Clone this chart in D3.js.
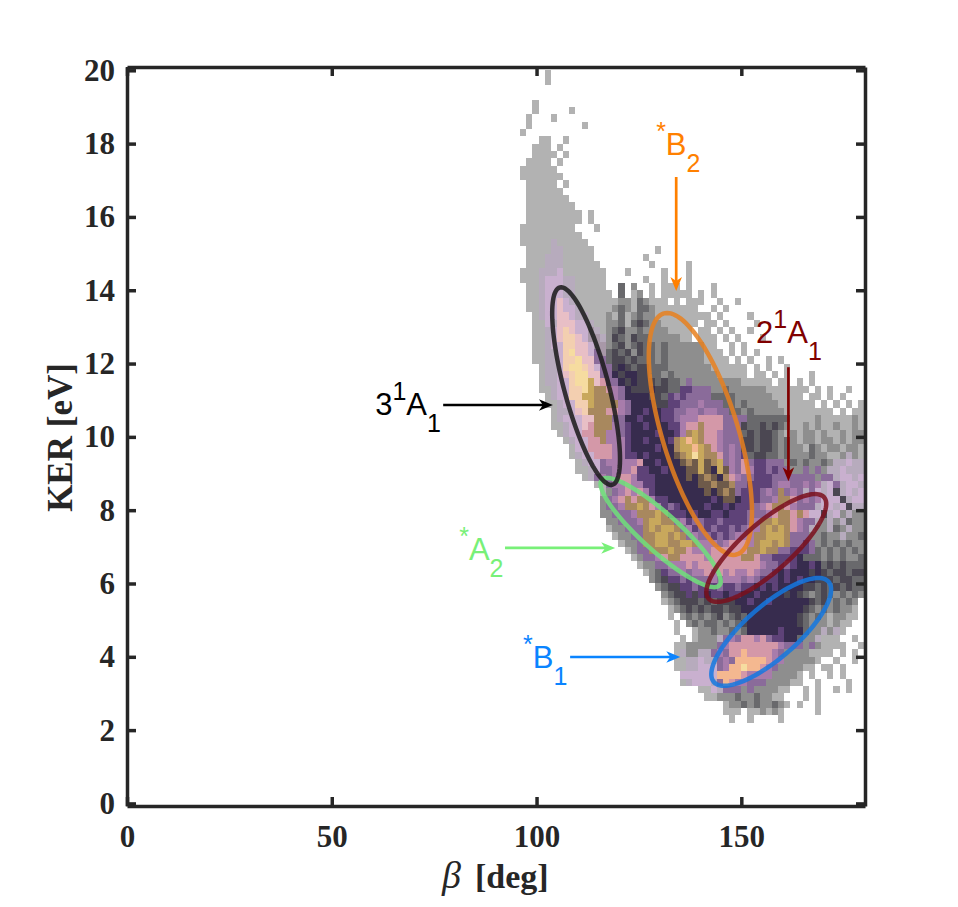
<!DOCTYPE html>
<html>
<head>
<meta charset="utf-8">
<script src="https://cdn.jsdelivr.net/npm/d3@7"></script>
<style>
    body { margin: 0; background: #fff; }
</style>
</head>
<body>
<div id="chart"></div>
<script>
const xTicks = [0, 50, 100, 150];
const yTicks = [0, 2, 4, 6, 8, 10, 12, 14, 16, 18, 20];

// heatmap. first row is KER 20 going down in 0.2 eV steps,
// first column is beta 96 going right in 1.5 deg steps (spaces only help counting)
const heatRows = [
    "....a",
    "....a",
    ".....",
    ".....",
    "..a..",
    "..a.. ...a.",
    ".a... a....",
    ".a... ..... a....",
    "a....",
    "...aa ..a..",
    "..aaa .a...",
    "..aaa a.a..",
    ".aaaa .a...",
    "aaaaa a....",
    "aaaaa aa...",
    ".aaaa a.a..",
    ".aaaa aa...",
    ".aaaa aaa..",
    ".aaaa aaaa.",
    ".aaaa aaaaa .a...",
    ".aaaa aaaaa .a...",
    "aaaaa aaaa. ..a",
    "aaaaa aaaaa",
    "aaaaa paaaa a",
    ".aaaa ppaaa aa... ..... ..a..",
    ".aaap ppaaa aa... ..... a....",
    ".aaap ppaaa aaa.. ..... .a... ..a..",
    "aaapp phaaa aaaa. ..a.. ...a. ..a..",
    "aaaph hhppa aaaa. ..... a..a. ..a..",
    ".aaph hhppa aaaa. .c.b. .a.aa a.a.. .a",
    ".aaph hhppa aaaaa .c.ab .a.aa aaa.a .a...",
    ".aaph hqhpa aaaaa abbac baaa. a.aaa ..a.. a....",
    ".aaph hqhhp aaaaa bcbac cbaaa aaaa. .a.a.",
    "..aph hqqhp paaab acabc bbaaa aaaaa a.a.. ..a..",
    "..aah pqqqh hpaab bcacd cbbaa aaaa. aa.a. ...a.",
    "..aap hqsqh hrpab cdbbc bbbba aaa.a a.a.a ..a..",
    "..aap hqssq hrrpb dcbdc cbbbb baa.a aa.a. a...a",
    "..aap hhssq qhrrb cdbcd ccbcb bbbbb aa..a .a...",
    "..aap phsnq qhgrc dcdbd ccbcb bbbbb aaa.a .a.a.",
    "..aap phssn qqggc ddcdc ccbcb bbbbb aaaa. a.a.. a.a",
    "...ap phsnn sqhgg dedcd dcccb bbbbb baaaa aa.a. a..a.",
    "...ap phqsn nqqgg edeed dccbc bbbbb bbaaa aa.aa .a.a. ..a..",
    "...ap phhsn nlqjg geded ddcdc cbgbb bbbbb baaaa a.aa. a.a..",
    "...aa phhss nlkkj igedd deddc cffgg gbbcb bbbbb aaaaa aa.a. a..a.",
    "....a phhss llkkk igeee eddcf gfggg gcccc bbbbb baaaa a.aa. a.a..",
    "....a aphhs slkkk kigee eeddf fgggi gggcc bcbbb bbaaa aaa.a .a.a. a",
    "..... apphq skkkj jigee feeff ggiig iiggc cbcbb bbbaa aaaaa a.a.a a",
    "..... aphhh qqkkk ggeef eeeff giiij jjjgg ggccc cccca aaaba aaaab a",
    "..... aaphh qjkkk igfee feeef fijjk jjjgg gdccd cdcba ababa abaab a",
    "..... .aphh jjkki igfee eefee fiklk jjigg gcdcd dcbab abbab aabab b",
    "..... ..aph hjjki iifee feeef klmlk jjigg gddcd dcbcb abbab babab b",
    "..... ...ah hjjjj iifee eefee kllml kjigi gddcd dcbcb bacba bbabb a",
    "..... ...ap hhjjj iiffe feeee oklnl kkjgi gfcdd ccbcb bbcbb aabpb a",
    "..... ....a phhgi iiiij eefee eokol oklgi gjgff gggbc bcbbc bpphp p",
    "..... ....a aphgg iiijf feefe eeool oeloi gjiff gfggb bgbgb pphpp p",
    "..... ..... apgig ijjif ffeee eeoeo koekj iggff fgggg gggbg gphhp h",
    "..... ..... ..aag iijii ffeee eeeeo okook ggfff fgiig gigip hgphh p",
    "..... ..... ...ab gijij ifeee eeeee oeoko gfffg igkgi gpghp hdphp h",
    "..... ..... ...bg ijkjk kiffe eeeee efeoo efffg gikkj gigih hhdph h",
    "..... ..... ...bg gikkl kjifg feeee feefe fffgi jkkji gggph hphdp p",
    "..... ..... ...bb gggik kklkf ffefe effef ffggg ijkkj kjhhd phbpb b",
    "..... ..... ....b bgggi kllkk gifgg ffgff ffgik klkkj iggpb pbpcb b",
    "..... ..... ....a bbggg klkll kgifg fgffg fgiik lklkj igpbb pcbpb b",
    "..... ..... ..... abbgg kkllk lkgig gfgfg iiikk lllkg ggbbc bbpbb c",
    "..... ..... ..... .abbg kkllk kllki iigij jjikl lklkg gfgbc bcbcb b",
    "..... ..... ..... ..abg gkkkl kkjii ijjjj jjkkl kkggf ffgcb cbcbc b",
    "..... ..... ..... ...ab ggijk kjjjj ijjjj jkkjg gffff ecccb cbcbb c",
    "..... ..... ..... ....a bbggi iijij jjjjj jjjji ggfgf eefec dcdcc c",
    "..... ..... ..... ..... abcfg gigii jijij iijig gfefe eeded cddcd d",
    "..... ..... ..... ..... .bcdf fgfgg gigii igigf ffefe feedd dcddc c",
    "..... ..... ..... ..... ..bcd dffgf ffgff gffef efeee eddcd cdcdc c",
    "..... ..... ..... ..... ...bc ddfdf effef feefe eeede dcbcd cbcbc b",
    "..... ..... ..... ..... ...ab cdddc dcddd eefee feeee eedcd bcbcb .",
    "..... ..... ..... ..... ....a bcdcd cddcd deeee eeeee edcbc bcbba .",
    "..... ..... ..... ..... ....a .bcbc bcdbc dceee eeeee dcbcb abbaa",
    "..... ..... ..... ..... ..... a.bcb ccbcb cdeee eeeee dcbbb abaa.",
    "..... ..... ..... ..... ..... a..ab bcbbc bceee eefee ecbbp bpa..",
    "..... ..... ..... ..... ..... .a.ab bbpgi gjjij gffee cbbpa aa..a",
    "..... ..... ..... ..... ..... aabbb bbgij jjjjj jjigg gbgba aaa.. a",
    "..... ..... ..... ..... ..... apbbp pgigj jmjjj jigbb bbaaa a.a.a",
    "..... ..... ..... ..... ..... aapph ppgig mmmmm jiibb bbba. .a..a",
    "..... ..... ..... ..... ..... aapph hhgim mnmmj igbbb baa.a a.a..",
    "..... ..... ..... ..... ..... .hhhh hhmmm mjiii ibbbb a.a.. a.a..",
    "..... ..... ..... ..... ..... .aphh hpgmj iiggg bbbba a..a. ...a.",
    "..... ..... ..... ..... ..... ....a ahpgg gbgbb bbaa. .a.a. .a.a.",
    "..... ..... ..... ..... ..... ..... aabbb cbbcb baa.. .a.a.",
    "..... ..... ..... ..... ..... ..... ...ab bcbcb bcba. a..a.",
    "..... ..... ..... ..... ..... ..... ...aa a.aab aba.. ...a.",
    "..... ..... ..... ..... ..... ..... ....a ..a.. ..a.."
];
const heatLevels = "abcdefghijklmnopqrs".split("");
const heatColors = ["#b2b2b2", "#8e8e8e", "#69696c", "#4b4752", "#372c4e", "#5e4278",
    "#8a6b9a", "#c9b0cf", "#a87cab", "#d498a8", "#a8885e", "#c8a85c",
    "#f4b890", "#f6dca0", "#6e5a4a", "#b7abbd", "#e8bfc6", "#a898a8", "#f3cfb0"];

// ellipses: centre, topmost point and half width at centre height, all in plot units
const ellipseNames = ["A2", "31A1", "B2", "21A1", "B1"];
const ellipseCentres = [[130.3, 7.39], [112.1, 11.385], [140.0, 10.08], [156.1, 6.97], [157.3, 4.68]];
const ellipseTops = [[117.2, 8.88], [106.0, 14.08], [131.9, 13.38], [168.05, 8.44], [168.8, 6.15]];
const ellipseHalfWidths = [6.6, 5.6, 9.65, 8.45, 9.04];
const ellipseColors = ["#6ee07a", "#1a1a1a", "#e8801e", "#7a0f1c", "#1478e0"];

// arrows: tail and head
const arrowTails = [[77.2, 10.87], [134.1, 17.09], [161.5, 11.9], [92.3, 6.97], [108.2, 3.995]];
const arrowHeads = [[104.0, 10.87], [134.1, 13.98], [161.5, 8.79], [119.2, 6.97], [135.1, 3.995]];
const arrowColors = ["#000000", "#ff8000", "#800000", "#78f078", "#0a84ff"];

// labels: start position and pieces
const labelStarts = [[60.6, 10.59], [129.2, 17.69], [153.6, 12.56], [81.1, 6.64], [96.7, 3.7]];
const labelPieces = [
    [["3", 0], ["1", 1], ["A", 0], ["1", -1]],
    [["*", 1], ["B", 0], ["2", -1]],
    [["2", 0], ["1", 1], ["A", 0], ["1", -1]],
    [["*", 1], ["A", 0], ["2", -1]],
    [["*", 1], ["B", 0], ["1", -1]]
];

const width = 958, height = 907;
const margin = {left: 127, right: 865, top: 67, bottom: 806};

const svg = d3.select("#chart").append("svg")
    .attr("width", width)
    .attr("height", height)
    .style("display", "block");

const x = d3.scaleLinear().domain([0, 180.2]).range([margin.left, margin.right]);
const y = d3.scaleLinear().domain([-0.07, 20.09]).range([margin.bottom, margin.top]);
const heatColor = d3.scaleOrdinal().domain(heatLevels).range(heatColors);

// heatmap cells
const cells = [];
heatRows.forEach(function (row, r) {
    row.replace(/ /g, "").split("").forEach(function (c, i) {
        if (c !== ".") {
            cells.push({beta: 96 + 1.5 * i, ker: 20 - 0.2 * r, level: c});
        }
    });
});

svg.append("g")
    .selectAll("rect")
    .data(cells)
    .join("rect")
    .attr("x", d => x(d.beta))
    .attr("y", d => y(d.ker))
    .attr("width", d => x(Math.min(d.beta + 1.5, 180)) - x(d.beta))
    .attr("height", d => y(d.ker - 0.2) - y(d.ker))
    .attr("shape-rendering", "crispEdges")
    .style("fill", d => heatColor(d.level));

// ellipses
const ellipseLine = d3.line().curve(d3.curveLinearClosed);
const angles = d3.range(0, 2 * Math.PI, Math.PI / 60);

ellipseNames.forEach(function (name, k) {
    const c = ellipseCentres[k], t = ellipseTops[k], w = ellipseHalfWidths[k];
    const pts = angles.map(a => [
        x(c[0] + (t[0] - c[0]) * Math.cos(a) + w * Math.sin(a)),
        y(c[1] + (t[1] - c[1]) * Math.cos(a))
    ]);
    svg.append("path")
        .attr("d", ellipseLine(pts))
        .style("fill", "none")
        .style("stroke", ellipseColors[k])
        .style("stroke-width", 4.5)
        .style("stroke-opacity", 0.85);
});

// axes, ticks point inwards on all four sides
const tickFont = "'Liberation Serif', 'Times New Roman', serif";

function styleAxis(g) {
    g.selectAll("path, line")
        .style("stroke", "#262626")
        .style("stroke-width", 3.5);
    g.selectAll("text")
        .style("font-family", tickFont)
        .style("font-weight", "bold")
        .style("font-size", "31px")
        .style("fill", "#262626");
}

svg.append("g")
    .attr("transform", "translate(0," + margin.bottom + ")")
    .call(d3.axisBottom(x).tickValues(xTicks).tickSize(-9).tickSizeOuter(0).tickPadding(19))
    .call(styleAxis);
svg.append("g")
    .attr("transform", "translate(" + margin.left + ",0)")
    .call(d3.axisLeft(y).tickValues(yTicks).tickSize(-9).tickSizeOuter(0).tickPadding(12))
    .call(styleAxis);
svg.append("g")
    .attr("transform", "translate(0," + margin.top + ")")
    .call(d3.axisTop(x).tickValues(xTicks).tickSize(-9).tickSizeOuter(0).tickFormat(""))
    .call(styleAxis);
svg.append("g")
    .attr("transform", "translate(" + margin.right + ",0)")
    .call(d3.axisRight(y).tickValues(yTicks).tickSize(-9).tickSizeOuter(0).tickFormat(""))
    .call(styleAxis);

// axis titles
svg.append("text")
    .attr("transform", "translate(72,437.5) rotate(-90)")
    .attr("text-anchor", "middle")
    .style("font-family", tickFont)
    .style("font-weight", "bold")
    .style("font-size", "35px")
    .style("fill", "#262626")
    .text("KER [eV]");

const xTitle = svg.append("text")
    .attr("x", 442)
    .attr("y", 888)
    .style("font-family", tickFont)
    .style("font-weight", "bold")
    .style("font-size", "34px")
    .style("fill", "#262626");
xTitle.append("tspan")
    .style("font-style", "italic")
    .style("font-weight", "normal")
    .style("font-size", "38px")
    .text("β");
xTitle.append("tspan").attr("x", 475).text("[deg]");

// arrows
arrowTails.forEach(function (tail, k) {
    const x1 = x(tail[0]), y1 = y(tail[1]);
    const x2 = x(arrowHeads[k][0]), y2 = y(arrowHeads[k][1]);
    const len = Math.hypot(x2 - x1, y2 - y1);
    const ux = (x2 - x1) / len, uy = (y2 - y1) / len;
    const pt = (back, side) => [x2 - ux * back - uy * side, y2 - uy * back + ux * side];

    svg.append("line")
        .attr("x1", x1).attr("y1", y1)
        .attr("x2", pt(8, 0)[0]).attr("y2", pt(8, 0)[1])
        .style("stroke", arrowColors[k])
        .style("stroke-width", 2.7);
    svg.append("path")
        .attr("d", "M" + [pt(0, 0), pt(14, 5.8), pt(10, 0), pt(14, -5.8)].join("L") + "Z")
        .style("fill", arrowColors[k]);
});

// state labels
labelStarts.forEach(function (start, k) {
    const t = svg.append("text")
        .attr("x", x(start[0]))
        .attr("y", y(start[1]))
        .style("font-family", "'Liberation Sans', Arial, sans-serif")
        .style("font-size", "31px")
        .style("fill", arrowColors[k]);
    let level = 0;
    labelPieces[k].forEach(function (p) {
        const shift = {"1": -15, "0": 0, "-1": 17};
        t.append("tspan")
            .attr("dy", shift[p[1]] - shift[level])
            .style("font-size", p[1] === 0 ? "31px" : "25px")
            .text(p[0]);
        level = p[1];
    });
});
</script>
</body>
</html>
